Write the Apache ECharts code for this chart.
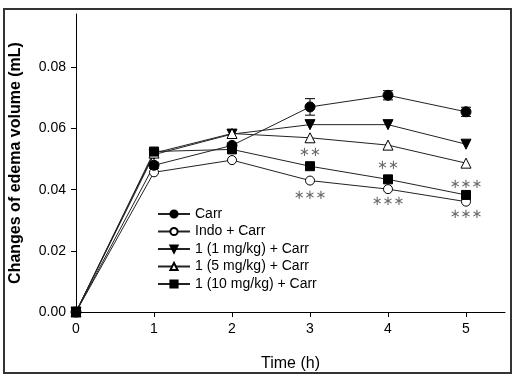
<!DOCTYPE html>
<html>
<head>
<meta charset="utf-8">
<script src="https://cdn.jsdelivr.net/npm/echarts@6/dist/echarts.min.js"></script>
<style>
html, body { margin: 0; padding: 0; background: #fff; }
#chart { width: 515px; height: 377px; }
</style>
</head>
<body>
<div id="chart"></div>
<script>
var times = [0, 1, 2, 3, 4, 5];
var carr = [0, 0.0480, 0.0545, 0.0671, 0.0709, 0.0655];
var carrErr = [0, 0.0010, 0.0008, 0.0027, 0.0015, 0.0015];
var indoCarr = [0, 0.0457, 0.0497, 0.0430, 0.0402, 0.0361];
var dose1 = [0, 0.0515, 0.0582, 0.0613, 0.0613, 0.0549];
var dose5 = [0, 0.0520, 0.0584, 0.0570, 0.0546, 0.0487];
var dose10 = [0, 0.0525, 0.0532, 0.0477, 0.0434, 0.0383];
var starX = [3, 3, 4, 4, 5, 5];
var starY = [0.0522, 0.0380, 0.0480, 0.0362, 0.0418, 0.0317];
var starText = ['∗∗', '∗∗∗', '∗∗', '∗∗∗', '∗∗∗', '∗∗∗'];
var yTicks = [0, 0.02, 0.04, 0.06, 0.08];
var xTicks = [0, 1, 2, 3, 4, 5];

function pairs(arr) {
    var out = [];
    for (var i = 0; i < times.length; i++) {
        out.push([times[i], arr[i]]);
    }
    return out;
}

function lineSeries(name, arr, symbol, filled, rotate, size) {
    return {
        name: name,
        type: 'line',
        data: pairs(arr),
        symbol: symbol,
        symbolSize: size,
        symbolRotate: rotate,
        showAllSymbol: true,
        lineStyle: { color: '#222', width: 1 },
        itemStyle: {
            color: filled ? '#000' : '#fff',
            borderColor: '#000',
            borderWidth: 1
        },
        emphasis: { disabled: true },
        z: 3
    };
}

var errData = [];
for (var i = 0; i < times.length; i++) {
    if (carrErr[i] > 0) {
        errData.push([times[i], carr[i] - carrErr[i], carr[i] + carrErr[i]]);
    }
}
var starData = [];
for (var j = 0; j < starX.length; j++) {
    starData.push([starX[j], starY[j], starText[j]]);
}

var dom = document.getElementById('chart');
var myChart = echarts.init(dom);
var option = {
    backgroundColor: '#fff',
    animation: false,
    textStyle: { fontFamily: 'Liberation Sans, Arial, sans-serif' },
    graphic: [{
        type: 'rect',
        shape: { x: 4, y: 9, width: 507, height: 364 },
        style: { fill: 'none', stroke: '#333', lineWidth: 2 },
        silent: true
    }],
    grid: { left: 75, right: 10, top: 14, bottom: 63 },
    legend: {
        orient: 'vertical',
        left: 152,
        top: 202,
        itemWidth: 32,
        itemHeight: 9,
        itemGap: 3.5,
        textStyle: { fontSize: 14, color: '#000', lineHeight: 14 },
        data: ['Carr', 'Indo + Carr', '1 (1 mg/kg) + Carr', '1 (5 mg/kg) + Carr', '1 (10 mg/kg) + Carr']
    },
    xAxis: {
        type: 'value',
        min: 0,
        max: 5.5,
        interval: 1,
        name: 'Time (h)',
        nameLocation: 'middle',
        nameGap: 40,
        nameTextStyle: { fontSize: 16, color: '#000', padding: [4, 0, 0, 0] },
        splitLine: { show: false },
        axisLine: { lineStyle: { color: '#000', width: 1 } },
        axisTick: { show: true, length: 5, customValues: xTicks, lineStyle: { color: '#000' } },
        axisLabel: { customValues: xTicks, margin: 10, fontSize: 14, color: '#000' }
    },
    yAxis: {
        type: 'value',
        min: 0,
        max: 0.0975,
        interval: 0.02,
        name: 'Changes of edema volume (mL)',
        nameLocation: 'middle',
        nameGap: 52,
        nameTextStyle: { fontSize: 16, fontWeight: 'bold', color: '#000' },
        splitLine: { show: false },
        axisLine: { show: true, lineStyle: { color: '#000', width: 1 } },
        axisTick: { show: true, length: 5, customValues: yTicks, lineStyle: { color: '#000' } },
        axisLabel: {
            customValues: yTicks,
            margin: 10,
            fontSize: 14,
            color: '#000',
            formatter: function (v) { return v.toFixed(2); }
        }
    },
    series: [
        lineSeries('Indo + Carr', indoCarr, 'circle', false, 0, 9),
        lineSeries('1 (1 mg/kg) + Carr', dose1, 'triangle', true, 180, 10),
        lineSeries('1 (5 mg/kg) + Carr', dose5, 'triangle', false, 0, 10),
        lineSeries('1 (10 mg/kg) + Carr', dose10, 'rect', true, 0, 9),
        lineSeries('Carr', carr, 'circle', true, 0, 10),
        {
            type: 'custom',
            data: errData,
            z: 2,
            silent: true,
            renderItem: function (params, api) {
                var x = api.value(0);
                var lo = api.coord([x, api.value(1)]);
                var hi = api.coord([x, api.value(2)]);
                var w = 5;
                var st = { stroke: '#000', lineWidth: 1 };
                return {
                    type: 'group',
                    children: [
                        { type: 'line', shape: { x1: lo[0], y1: lo[1], x2: hi[0], y2: hi[1] }, style: st },
                        { type: 'line', shape: { x1: lo[0] - w, y1: lo[1], x2: lo[0] + w, y2: lo[1] }, style: st },
                        { type: 'line', shape: { x1: hi[0] - w, y1: hi[1], x2: hi[0] + w, y2: hi[1] }, style: st }
                    ]
                };
            }
        },
        {
            type: 'scatter',
            data: starData,
            symbolSize: 1,
            itemStyle: { color: 'rgba(0,0,0,0)' },
            silent: true,
            label: {
                show: true,
                position: 'inside',
                fontFamily: 'DejaVu Sans',
                fontSize: 13,
                color: '#444',
                formatter: function (p) { return p.value[2]; }
            }
        }
    ]
};
myChart.setOption(option, true);
</script>
</body>
</html>
